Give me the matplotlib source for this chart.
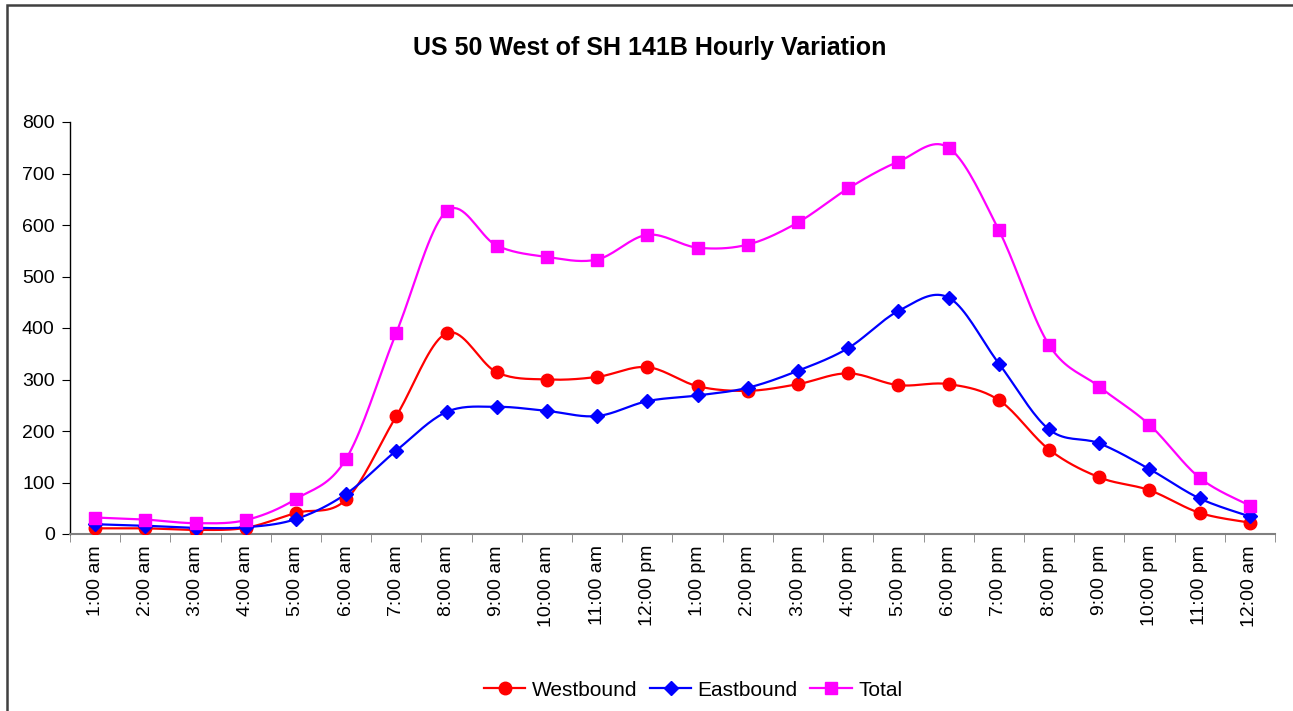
import numpy as np
import matplotlib
matplotlib.use("Agg")
import matplotlib.pyplot as plt
from matplotlib.lines import Line2D
from matplotlib.patches import Rectangle

plt.rcParams['font.family'] = ['Liberation Sans', 'DejaVu Sans']

hours = ["1:00 am", "2:00 am", "3:00 am", "4:00 am", "5:00 am", "6:00 am",
         "7:00 am", "8:00 am", "9:00 am", "10:00 am", "11:00 am", "12:00 pm",
         "1:00 pm", "2:00 pm", "3:00 pm", "4:00 pm", "5:00 pm", "6:00 pm",
         "7:00 pm", "8:00 pm", "9:00 pm", "10:00 pm", "11:00 pm", "12:00 am"]
westbound = [11, 11, 8, 12, 41, 67, 229, 390, 314, 300, 305, 324,
             287, 278, 291, 312, 289, 291, 260, 164, 110, 85, 41, 22]
eastbound = [19, 16, 12, 13, 29, 78, 162, 237, 247, 239, 229, 258,
             269, 284, 317, 361, 433, 459, 331, 203, 176, 126, 69, 34]
total = [32, 28, 21, 27, 68, 146, 391, 627, 560, 538, 533, 581,
         556, 562, 605, 671, 723, 750, 590, 367, 286, 212, 109, 55]


def smooth(x, y, n=20):
    # catmull-rom like excel smoothed lines
    x = np.asarray(x, float)
    y = np.asarray(y, float)
    px = np.concatenate([[x[0]], x, [x[-1]]])
    py = np.concatenate([[y[0]], y, [y[-1]]])
    xs, ys = [], []
    for i in range(1, len(px) - 2):
        p0, p1, p2, p3 = (np.array([px[j], py[j]]) for j in range(i - 1, i + 3))
        c1 = p1 + (p2 - p0) / 6
        c2 = p2 - (p3 - p1) / 6
        t = np.linspace(0, 1, n)[:, None]
        b = (1 - t) ** 3 * p1 + 3 * (1 - t) ** 2 * t * c1 + 3 * (1 - t) * t ** 2 * c2 + t ** 3 * p2
        xs.extend(b[:, 0])
        ys.extend(b[:, 1])
    return xs, ys


fig = plt.figure(figsize=(12.93, 7.11), dpi=100)
ax = fig.add_axes([70 / 1293, 1 - 534 / 711, 1205 / 1293, 412 / 711])

x = np.arange(len(hours))
series = [(westbound, "#ff0000", "o", 9, "Westbound"),
          (eastbound, "#0000ff", "D", 7, "Eastbound"),
          (total, "#ff00ff", "s", 8.5, "Total")]
handles = []
for vals, col, mk, ms, lab in series:
    sx, sy = smooth(x, vals)
    ax.plot(sx, sy, color=col, lw=1.6, zorder=2)
    ax.plot(x, vals, ls="none", marker=mk, ms=ms, color=col, zorder=3)
    handles.append(Line2D([], [], color=col, lw=1.6, marker=mk, ms=ms, label=lab))

ax.set_xlim(-0.5, len(hours) - 0.5)
ax.set_ylim(0, 800)
ax.set_yticks(range(0, 801, 100))
ax.set_xticks(x)
ax.set_xticklabels(hours, rotation=90, fontsize=14)
ax.tick_params(axis="x", length=0, pad=8)
ax.set_xticks(np.arange(-0.5, len(hours), 1), minor=True)
ax.tick_params(axis="x", which="minor", length=6, direction="out", color="#808080")
ax.tick_params(axis="y", labelsize=14, length=6, direction="out", pad=5)
for s in ["top", "right"]:
    ax.spines[s].set_visible(False)
ax.spines["bottom"].set_color("#808080")
ax.spines["bottom"].set_linewidth(1.5)
ax.spines["left"].set_linewidth(1.0)

fig.text(650 / 1293, 1 - 48 / 711, "US 50 West of SH 141B Hourly Variation",
         ha="center", va="center", fontsize=18, fontweight="bold")

fig.legend(handles=handles, loc="center", bbox_to_anchor=(693 / 1293, 1 - 690 / 711),
           ncol=3, frameon=False, fontsize=15, handlelength=2.0,
           columnspacing=0.6, handletextpad=0.3)

fig.patches.append(Rectangle((7 / 1293, -0.05), 1.1, 1 - 5 / 711 + 0.05,
                             transform=fig.transFigure, fill=False,
                             edgecolor="#404040", lw=1.8))

fig.savefig("out.png", dpi=100)
